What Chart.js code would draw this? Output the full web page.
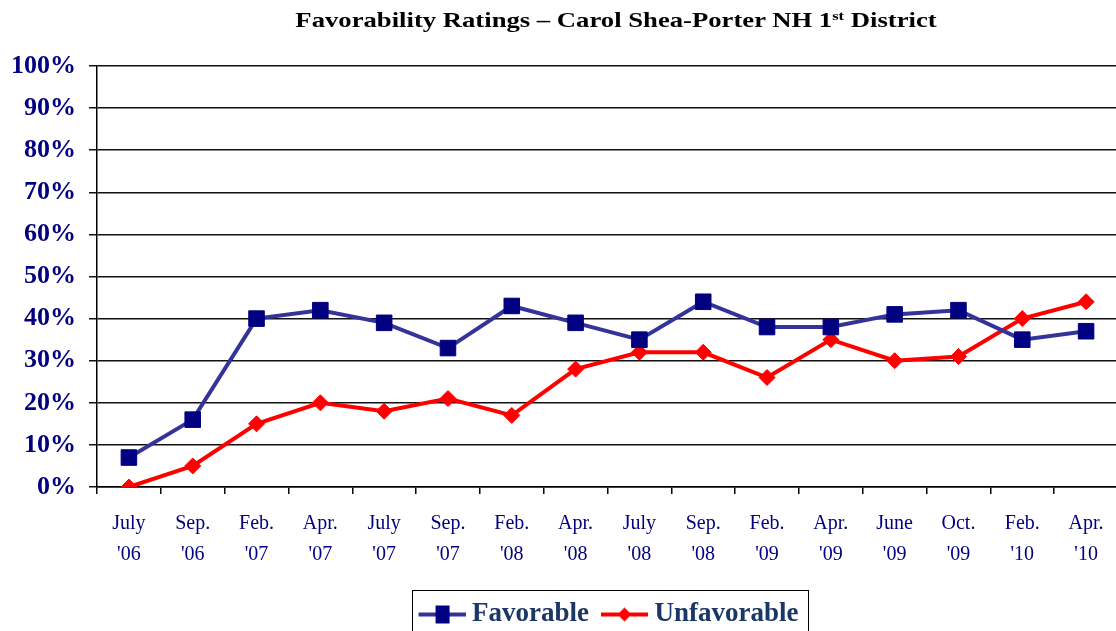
<!DOCTYPE html>
<html>
<head>
<meta charset="utf-8">
<script src="https://cdn.jsdelivr.net/npm/chart.js@4/dist/chart.umd.min.js"></script>
<style>
  html, body { margin: 0; padding: 0; background: #fff; overflow: hidden; }
  #wrap { position: relative; width: 1116px; height: 631px; overflow: hidden; }
  #title {
    position: absolute; left: 0; top: 8px; width: 1232px; text-align: center;
    font-family: 'Liberation Serif', 'Times New Roman', serif; font-weight: bold;
    font-size: 21px; line-height: 24px; color: #000;
    transform: scaleX(1.27); transform-origin: 616px 0;
  }
  #title sup { font-size: 13px; vertical-align: 7px; line-height: 0; }
  canvas { position: absolute; left: 0; top: 0; }
</style>
</head>
<body>
<div id="wrap">
  <canvas id="chart" width="1130" height="631"></canvas>
  <div id="title">Favorability Ratings – Carol Shea-Porter NH 1<sup>st</sup> District</div>
</div>
<script>
// --- data ---
const months = ['July', 'Sep.', 'Feb.', 'Apr.', 'July', 'Sep.', 'Feb.', 'Apr.', 'July', 'Sep.', 'Feb.', 'Apr.', 'June', 'Oct.', 'Feb.', 'Apr.'];
const years = ["'06", "'06", "'07", "'07", "'07", "'07", "'08", "'08", "'08", "'08", "'09", "'09", "'09", "'09", "'10", "'10"];
const favorable = [7, 16, 40, 42, 39, 33, 43, 39, 35, 44, 38, 38, 41, 42, 35, 37];
const unfavorable = [0, 5, 15, 20, 18, 21, 17, 28, 32, 32, 26, 35, 30, 31, 40, 44];

const SERIF = "'Liberation Serif', 'Times New Roman', serif";
const NAVY = '#000080';
const LEGEND_TEXT = '#1a3766';

// legend icon: line with marker, shifted a bit right inside its canvas
function makeIcon(lineColor, markColor, shape) {
  const c = document.createElement('canvas');
  c.width = 56; c.height = 22;
  const g = c.getContext('2d');
  g.strokeStyle = lineColor; g.lineWidth = 4;
  g.beginPath(); g.moveTo(9, 11); g.lineTo(56, 11); g.stroke();
  g.fillStyle = markColor;
  if (shape === 'rect') {
    g.fillRect(26, 2, 14, 18);
  } else {
    g.beginPath(); g.moveTo(32.5, 4); g.lineTo(39.5, 11); g.lineTo(32.5, 18); g.lineTo(25.5, 11); g.closePath(); g.fill();
  }
  return c;
}
const icons = [makeIcon('#333399', NAVY, 'rect'), makeIcon('#ff0000', '#ff0000', 'diamond')];

const legendBox = {
  id: 'legendBox',
  afterLayout(chart) {
    // push the legend a few px lower without shrinking the plot
    chart.legend.top += 7;
    chart.legend.bottom += 7;
  },
  afterDraw(chart) {
    const hb = chart.legend.legendHitBoxes;
    if (!hb || !hb.length) return;
    const first = hb[0], last = hb[hb.length - 1];
    const ctx = chart.ctx;
    ctx.save();
    ctx.strokeStyle = '#000';
    ctx.lineWidth = 1;
    const x0 = Math.round(first.left - 5) + 0.5;
    const x1 = Math.round(last.left + last.width + 10) + 0.5;
    const y0 = Math.round(first.top - 11) + 0.5;
    ctx.strokeRect(x0, y0, x1 - x0, 80);
    ctx.restore();
  }
};

new Chart(document.getElementById('chart'), {
  type: 'line',
  data: {
    labels: months.map((m, i) => [m, years[i]]),
    datasets: [
      {
        label: 'Favorable', data: favorable,
        borderColor: '#333399', borderWidth: 4,
        pointStyle: 'rect', pointRadius: 11, pointBackgroundColor: NAVY, pointBorderColor: NAVY, pointBorderWidth: 1,
        tension: 0
      },
      {
        label: 'Unfavorable', data: unfavorable,
        borderColor: '#ff0000', borderWidth: 4,
        pointStyle: 'rectRot', pointRadius: 8, pointBackgroundColor: '#ff0000', pointBorderColor: '#ff0000', pointBorderWidth: 1,
        tension: 0
      }
    ]
  },
  options: {
    responsive: false,
    animation: false,
    layout: { padding: { top: 66, left: 9, right: 4, bottom: 0 } },
    plugins: {
      title: { display: false },
      tooltip: { enabled: false },
      legend: {
        position: 'bottom',
        fullSize: false,
        labels: {
          usePointStyle: true,
          pointStyleWidth: 42,
          boxHeight: 22,
          padding: 10,
          color: LEGEND_TEXT,
          font: { family: SERIF, size: 27, weight: 'bold' },
          generateLabels: chart => chart.data.datasets.map((ds, i) => ({
            text: ds.label, pointStyle: icons[i], datasetIndex: i, hidden: false,
            lineWidth: 0, strokeStyle: 'transparent', fillStyle: 'transparent', fontColor: LEGEND_TEXT
          }))
        }
      }
    },
    scales: {
      x: {
        offset: true,
        grid: { offset: true, drawOnChartArea: false, drawTicks: true, tickLength: 7, color: '#000', lineWidth: 1.5 },
        border: { color: '#000', width: 1.5 },
        ticks: {
          color: NAVY, padding: 14, maxRotation: 0, autoSkip: false,
          font: { family: SERIF, size: 20, lineHeight: 1.55 }
        }
      },
      y: {
        min: 0, max: 100,
        afterFit: s => { s.width = 88; },
        grid: { color: '#111', lineWidth: 1.5, tickLength: 8 },
        border: { color: '#000', width: 1.5 },
        ticks: {
          stepSize: 10, color: NAVY, padding: 13,
          font: { family: SERIF, size: 26, weight: 'bold' },
          callback: v => v + '%'
        }
      }
    }
  },
  plugins: [legendBox]
});
</script>
</body>
</html>
